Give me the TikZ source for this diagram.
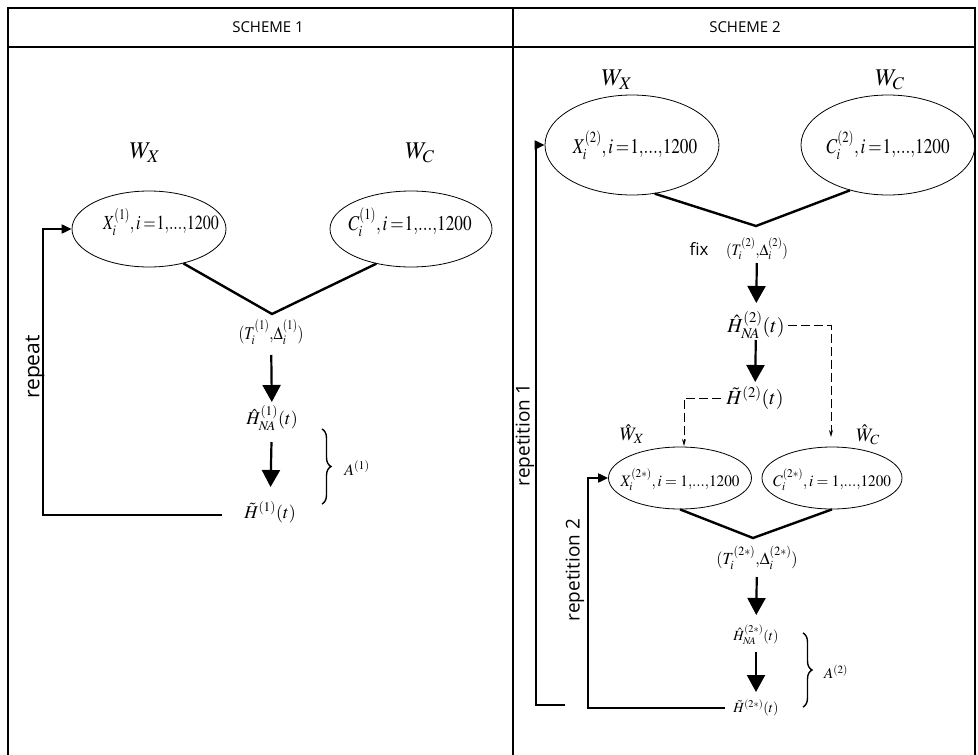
\documentclass[tikz,border=0pt]{standalone}
\usepackage{mathptmx}
\usepackage[no-math]{fontspec}
\setsansfont{Open Sans}
\usepackage{graphicx}
\usetikzlibrary{arrows.meta,shapes.geometric,decorations.pathreplacing}

\newcommand{\fsz}[1]{\fontsize{#1}{#1}\selectfont}
\newcommand{\squeeze}[2][0.85]{\scalebox{#1}[1]{#2}}
% index range written tight, as 1,...,1200
\newcommand{\range}{1{,}...{,}1200}
\newcommand{\tighteq}{\mkern3mu{=}\mkern1mu}

\begin{document}
\begin{tikzpicture}[x=1pt,y=-1pt,
  frame/.style={line width=1.4pt},
  head/.style={font=\sffamily\fsz{15}},
  side/.style={font=\sffamily\fsz{19}, rotate=90, inner sep=0pt},
  pool/.style={ellipse, draw, line width=0.8pt, inner sep=0pt},
  txt/.style={inner sep=0pt},
  vee/.style={line width=2.4pt},
  down/.style={line width=2.2pt, -{Triangle[length=17pt,width=18pt]}},
  loop/.style={line width=2pt, -{Triangle[length=10pt,width=9pt]}},
  hint/.style={line width=0.9pt, dash pattern=on 9pt off 4pt, -{Stealth[length=7pt,width=4pt]}},
  brc/.style={line width=1.4pt, decorate, decoration={brace, amplitude=9pt}},
  ]
\useasboundingbox (0,0) rectangle (978,755);

% table frame
\draw[frame] (8,756) -- (8,8) -- (975,8) -- (975,756);
\draw[frame] (8,47) -- (975,47);
\draw[frame] (513,8) -- (513,756);
\node[head] (s1) at (268,27) {SCHEME 1};
\node[head] (s2) at (745,27) {SCHEME 2};

% ---------------- scheme 1 ----------------
\node[txt, font=\fsz{24}] (w1x) at (145,153) {$W_X$};
\node[txt, font=\fsz{24}] (w1c) at (420,153) {$W_C$};
\node[pool, minimum width=154pt, minimum height=76pt] (x1) at (149,229) {};
\node[pool, minimum width=162pt, minimum height=76pt] (c1) at (411,229) {};
\node[txt, font=\fsz{20}] (x1t) at (161,222) {\squeeze[0.8]{$X_i^{(1)}, i\tighteq\range$}};
\node[txt, font=\fsz{21}] (c1t) at (410,222) {\squeeze[0.82]{$C_i^{(1)}, i\tighteq\range$}};
\coordinate (v1) at (272,314);
\draw[vee] (x1.-45) -- (v1) -- (c1.-135);

\node[txt, font=\fsz{18}] (t1) at (271,332) {\squeeze[0.84]{$(T_i^{(1)}{,}\Delta_i^{(1)})$}};
\node[txt, font=\fsz{18}] (h1) at (272,418) {$\hat{H}_{N\!A}^{(1)}(t)$};
\node[txt, font=\fsz{18}] (g1) at (270,512) {$\tilde{H}^{(1)}(t)$};
\draw[down, shorten <=23pt, shorten >=16pt] (t1.center) -- (h1.center);
\draw[down, shorten <=24pt, shorten >=25pt] (h1.center) -- (g1.center);

\draw[brc] (322,429) -- (322,504);
\node[txt, font=\fsz{16}] (a1) at (357,468) {$A^{(1)}$};

\coordinate (q0s) at (222,515);
\coordinate (q0) at (43,515);
\draw[loop] (q0s) -- (q0) |- (x1.west);
\node[side, font=\sffamily\fsz{21}] (rep) at (35,367) {repeat};

% ---------------- scheme 2 ----------------
\node[txt, font=\fsz{24}] (w2x) at (617,80) {$W_X$};
\node[txt, font=\fsz{24}] (w2c) at (890,80) {$W_C$};
\node[pool, minimum width=174pt, minimum height=100pt] (x2) at (632,145) {};
\node[pool, minimum width=174pt, minimum height=100pt] (c2) at (888,145) {};
\node[txt, font=\fsz{21}] (x2t) at (635,145) {\squeeze[0.82]{$X_i^{(2)}, i\tighteq\range$}};
\node[txt, font=\fsz{21}] (c2t) at (888,145) {\squeeze[0.82]{$C_i^{(2)}, i\tighteq\range$}};
\coordinate (v2) at (756,226);
\draw[vee] (x2.-65) -- (v2) -- (c2.-130);

\node[txt, font=\sffamily\fsz{17}] (fix) at (699,249) {fix};
\node[txt, font=\fsz{16}] (t2) at (757,249) {\squeeze[0.9]{$(T_i^{(2)}{,}\Delta_i^{(2)})$}};
\node[txt, font=\fsz{20}] (h2) at (756,325) {$\hat{H}_{N\!A}^{(2)}(t)$};
\node[txt, font=\fsz{20}] (g2) at (755,398) {$\tilde{H}^{(2)}(t)$};
\draw[down, shorten <=14pt, shorten >=22pt] (t2.center) -- (h2.center);
\draw[down, shorten <=15pt, shorten >=16pt] (h2.center) -- (g2.center);

\node[txt, font=\fsz{19}] (w3x) at (632,434) {$\hat{W}_X$};
\node[txt, font=\fsz{19}] (w3c) at (868,435) {$\hat{W}_C$};
\node[pool, minimum width=143pt, minimum height=62pt] (x2s) at (680,478) {};
\node[pool, minimum width=140pt, minimum height=62pt] (c2s) at (832,478) {};
\node[txt, font=\fsz{16}] (x2st) at (680,480) {\squeeze[0.95]{$X_i^{(2*)}, i=\range$}};
\node[txt, font=\fsz{16}] (c2st) at (832,480) {\squeeze[0.95]{$C_i^{(2*)}, i=\range$}};

\coordinate (d1) at (831,437);
\coordinate (d2) at (684,446);
\draw[hint, shorten <=3pt] (h2.east) -| (d1);
\draw[hint, shorten <=5pt] (g2.west) -| (d2);

\coordinate (v3) at (753,538);
\draw[vee] (x2s.south) -- (v3) -- (c2s.south);

\node[txt, font=\fsz{17}] (t3) at (757,558) {\squeeze[0.95]{$(T_i^{(2*)}{,}\Delta_i^{(2*)})$}};
\node[txt, font=\fsz{14}] (h3) at (756,635) {$\hat{H}_{N\!A}^{(2*)}(t)$};
\node[txt, font=\fsz{14}] (g3) at (756,708) {$\tilde{H}^{(2*)}(t)$};
\draw[down, shorten <=19pt, shorten >=20pt] (t3.center) -- (h3.center);
\draw[down, shorten <=17pt, shorten >=16pt] (h3.center) -- (g3.center);

\draw[brc] (803,633) -- (803,707);
\node[txt, font=\fsz{15}] (a2) at (836,672) {$A^{(2)}$};

% repetition loops
\coordinate (q1a) at (565,705);
\coordinate (q1b) at (536,705);
\draw[loop] (q1a) -- (q1b) |- (x2.west);
\node[side] (rep1) at (525,435) {repetition 1};

\coordinate (q2) at (588,708);
\draw[loop, shorten <=31pt] (g3.center) -- (q2) |- (x2s.west);
\node[side] (rep2) at (575,570) {repetition 2};
\end{tikzpicture}
\end{document}
